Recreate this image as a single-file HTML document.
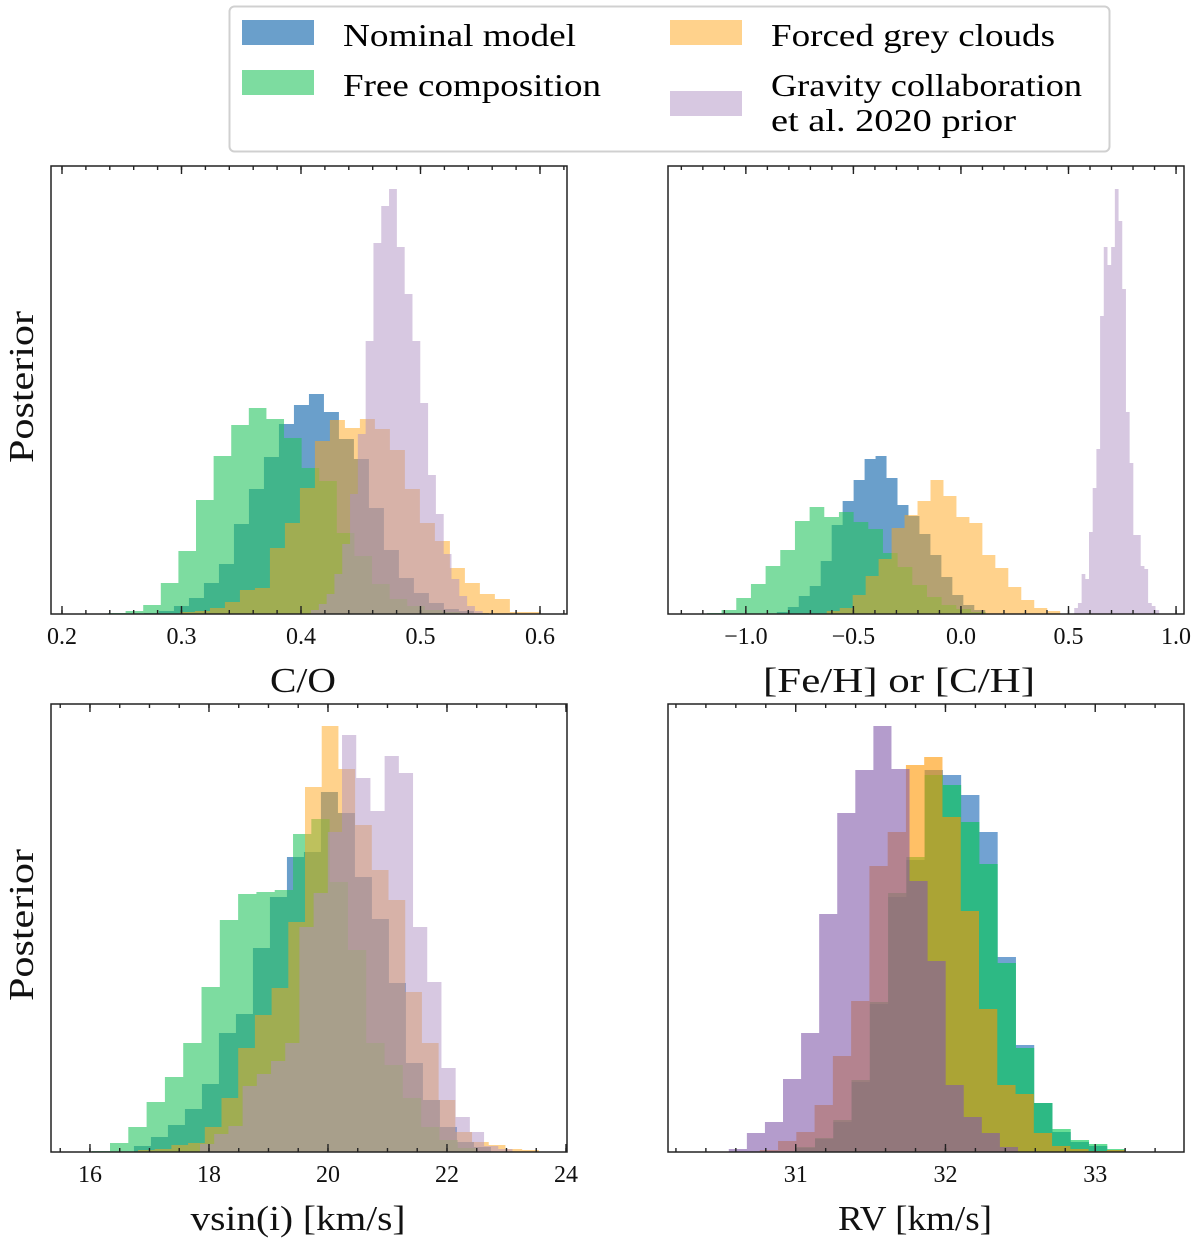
<!DOCTYPE html>
<html><head><meta charset="utf-8"><style>
html,body{margin:0;padding:0;background:#fff;}
svg{display:block;font-family:"Liberation Serif",serif;}
</style></head><body>
<svg id="fig" width="1200" height="1244" viewBox="0 0 1200 1244" xmlns="http://www.w3.org/2000/svg">
<g>
<rect x="229.5" y="6.5" width="880" height="145" rx="5" fill="#fff" stroke="#d0d0d0" stroke-width="2"/>
<rect x="242" y="20" width="72" height="25" fill="rgb(106,159,203)"/>
<text x="343" y="46" font-size="32" textLength="233" lengthAdjust="spacingAndGlyphs">Nominal model</text>
<rect x="242" y="70" width="72" height="25" fill="rgb(125,220,160)"/>
<text x="343" y="96" font-size="32" textLength="258" lengthAdjust="spacingAndGlyphs">Free composition</text>
<rect x="670" y="20" width="72" height="25" fill="rgb(255,210,140)"/>
<text x="771" y="46" font-size="32" textLength="284" lengthAdjust="spacingAndGlyphs">Forced grey clouds</text>
<rect x="670" y="91" width="72" height="25" fill="rgb(215,200,225)"/>
<text x="771" y="96" font-size="32" textLength="311" lengthAdjust="spacingAndGlyphs">Gravity collaboration</text>
<text x="771" y="131" font-size="32" textLength="245" lengthAdjust="spacingAndGlyphs">et al. 2020 prior</text>
</g>
</svg>
<script>
// ---- Panel 1: C/O ----
const coTicks = [0.2, 0.3, 0.4, 0.5, 0.6];
const coTickLabels = ["0.2", "0.3", "0.4", "0.5", "0.6"];
const coNominalStart = 0.2686, coNominalWidth = 0.01255;
const coNominal = [1,3,8,16,31,50,90,125,157,190,209,220,202,175,155,106,64,36,21,11,5,3,1];
const coFreeStart = 0.2385, coFreeWidth = 0.01473;
const coFree = [1,3,9,31,63,114,158,189,206,195,176,146,133,81,58,30,15,8,4,2];
const coForcedStart = 0.2987, coForcedWidth = 0.01255;
const coForced = [2,3,6,12,24,26,66,91,126,173,194,186,195,185,164,125,91,73,46,31,20,15,2,2];
const coGravityStart = 0.4084, coGravityWidth = 0.00653;
const coGravity = [4,10,20,40,70,120,180,273,371,408,425,367,320,273,211,139,100,60,35,18,8,3];

// ---- Panel 2: [Fe/H] ----
const feTicks = [-1.0, -0.5, 0.0, 0.5, 1.0];
const feTickLabels = ["\u22121.0", "\u22120.5", "0.0", "0.5", "1.0"];
const feNominalStart = -0.856, feNominalWidth = 0.051;
const feNominal = [2,7,18,28,53,89,113,134,155,158,136,109,98,80,59,37,19,9,4];
const feFreeStart = -1.181, feFreeWidth = 0.0682;
const feFree = [1,4,16,30,48,64,93,107,97,102,92,85,61,47,29,17,9,5,2];
const feForcedStart = -0.624, feForcedWidth = 0.0603;
const feForced = [3,6,19,38,55,86,99,113,134,118,97,91,59,46,27,14,6,3];
const feGravityStart = 0.5267, feGravityWidth = 0.01717;
const feGravity = [6,11,40,35,82,126,165,298,367,349,367,425,393,325,202,151,79,79,48,45,11,8,4];

// ---- Panel 3: vsin(i) ----
const vsTicks = [16, 18, 20, 22, 24];
const vsTickLabels = ["16", "18", "20", "22", "24"];
const vsNominalStart = 16.739, vsNominalWidth = 0.2857;
const vsNominal = [6,15,27,43,68,119,138,204,255,295,300,360,339,275,233,169,89,52,25,10,5];
const vsFreeStart = 16.029, vsFreeWidth = 0.3076;
const vsFree = [1,9,25,50,75,109,165,232,258,260,262,318,333,270,202,109,87,54,25,12,4];
const vsForcedStart = 16.807, vsForcedWidth = 0.2807;
const vsForced = [2,3,7,9,25,54,104,137,164,230,365,426,383,327,282,252,160,109,52,20,10,7,3,2];
const vsGravityStart = 17.849, vsGravityWidth = 0.2387;
const vsGravity = [8,18,26,66,78,91,109,225,259,320,417,374,341,396,379,225,170,84,35,20,6,3];

// ---- Panel 4: RV ----
const rvTicks = [31, 32, 33];
const rvTickLabels = ["31", "32", "33"];
const rvNominalStart = 31.0067, rvNominalWidth = 0.122;
const rvNominal = [4,13,30,70,148,255,292,382,377,357,320,195,107,49,20,10,6,2];
const rvFreeStart = 31.0067, rvFreeWidth = 0.122;
const rvFree = [5,14,32,72,150,259,295,377,367,330,288,189,104,49,23,12,8,3];
const rvForcedStart = 30.76, rvForcedWidth = 0.122;
const rvForced = [2,11,20,47,96,151,286,320,387,395,335,241,143,67,58,19,6,3,1,2];
const rvGravityStart = 30.553, rvGravityWidth = 0.1207;
const rvGravity = [3,19,30,73,119,238,339,382,426,383,271,191,67,35,19,5];

const NS = "http://www.w3.org/2000/svg";
const svg = document.getElementById("fig");
function mk(tag, attrs, parent){const e=document.createElementNS(NS,tag);for(const k in attrs)e.setAttribute(k,attrs[k]);(parent||svg).appendChild(e);return e;}

const colsA = {nominal:["rgb(7,95,168)",0.6], free:["rgb(38,197,97)",0.6], forced:["rgb(255,165,25)",0.5], gravity:["rgb(175,145,195)",0.5]};
const colsB = {nominal:["rgb(20,100,180)",0.6], free:["rgb(0,200,80)",0.6], forced:["rgb(255,150,0)",0.6], gravity:["rgb(130,90,170)",0.6]};

function panel(cfg){
  const L=cfg.left, T=cfg.top, W=516, H=448, R=L+W, B=T+H;
  const g = mk("g",{});
  
  
  const xs = v => L + (v - cfg.xmin) / (cfg.xmax - cfg.xmin) * W;
  const ys = c => B - c / cfg.ymax * H;
  const clip = mk("clipPath",{id:cfg.name+"-clip"},g);
  mk("rect",{x:L,y:T,width:W,height:H},clip);
  const hg = mk("g",{"clip-path":"url(#"+cfg.name+"-clip)"},g);
  
  
  cfg.series.forEach(s=>{
    let d = "M"+xs(s.start).toFixed(2)+","+B;
    s.counts.forEach((c,i)=>{
      const x0=xs(s.start+i*s.width), x1=xs(s.start+(i+1)*s.width), y=ys(c);
      d += " L"+x0.toFixed(2)+","+y.toFixed(2)+" L"+x1.toFixed(2)+","+y.toFixed(2);
    });
    d += " L"+xs(s.start+s.counts.length*s.width).toFixed(2)+","+B+" Z";
    const p = mk("path",{d:d,fill:s.col[0],"fill-opacity":s.col[1]},hg);
    
    
  });
  const fr = mk("rect",{x:L,y:T,width:W,height:H,fill:"none",stroke:"#222","stroke-width":1.5},g);
  
  
  const tg = mk("g",{stroke:"#222","stroke-width":1.4},g);
  
  
  const m0 = Math.ceil(cfg.xmin/cfg.minor - 1e-6);
  for(let k=m0; k*cfg.minor<=cfg.xmax+1e-9; k++){
    const x = xs(k*cfg.minor);
    mk("line",{x1:x,x2:x,y1:B,y2:B-4},tg);
    mk("line",{x1:x,x2:x,y1:T,y2:T+4},tg);
  }
  cfg.ticks.forEach((t,i)=>{
    const x=xs(t);
    mk("line",{x1:x,x2:x,y1:B,y2:B-8},tg);
    mk("line",{x1:x,x2:x,y1:T,y2:T+8},tg);
    const lb = mk("text",{x:x,y:B+30,"font-size":24,"text-anchor":"middle",fill:"#111"},g);
    lb.textContent = cfg.tickLabels[i];
    
    
  });
  const xl = mk("text",{x:cfg.xlabelX,y:B+78,"font-size":35,"text-anchor":"middle",fill:"#111",textLength:cfg.xlabelW,lengthAdjust:"spacingAndGlyphs"},g);
  xl.textContent = cfg.xlabel;
  
  
  if(cfg.ylabel){
    const yl = mk("text",{x:0,y:0,"font-size":35,"text-anchor":"middle",fill:"#111",textLength:152,lengthAdjust:"spacingAndGlyphs",transform:"translate(33,"+(T+H/2-3)+") rotate(-90)"},g);
    yl.textContent = "Posterior";
    
    
  }
}

function S(key,start,width,counts,col){return {key,start,width,counts,col};}

panel({name:"panel-co",left:51,top:166,xmin:0.1908,xmax:0.6226,ymax:448,minor:0.02,ticks:coTicks,tickLabels:coTickLabels,xlabel:"C/O",xlabelX:303,xlabelW:66,ylabel:true,
  series:[S("nominal",coNominalStart,coNominalWidth,coNominal,colsA.nominal),S("free",coFreeStart,coFreeWidth,coFree,colsA.free),S("forced",coForcedStart,coForcedWidth,coForced,colsA.forced),S("gravity",coGravityStart,coGravityWidth,coGravity,colsA.gravity)]});
panel({name:"panel-feh",left:668,top:166,xmin:-1.362,xmax:1.037,ymax:448,minor:0.1,ticks:feTicks,tickLabels:feTickLabels,xlabel:"[Fe/H] or [C/H]",xlabelX:899,xlabelW:272,ylabel:false,
  series:[S("nominal",feNominalStart,feNominalWidth,feNominal,colsA.nominal),S("free",feFreeStart,feFreeWidth,feFree,colsA.free),S("forced",feForcedStart,feForcedWidth,feForced,colsA.forced),S("gravity",feGravityStart,feGravityWidth,feGravity,colsA.gravity)]});
panel({name:"panel-vsini",left:51,top:704,xmin:15.345,xmax:24.017,ymax:448,minor:0.5,ticks:vsTicks,tickLabels:vsTickLabels,xlabel:"vsin(i) [km/s]",xlabelX:298,xlabelW:215,ylabel:true,
  series:[S("nominal",vsNominalStart,vsNominalWidth,vsNominal,colsA.nominal),S("free",vsFreeStart,vsFreeWidth,vsFree,colsA.free),S("forced",vsForcedStart,vsForcedWidth,vsForced,colsA.forced),S("gravity",vsGravityStart,vsGravityWidth,vsGravity,colsA.gravity)]});
panel({name:"panel-rv",left:668,top:704,xmin:30.147,xmax:33.593,ymax:448,minor:0.2,ticks:rvTicks,tickLabels:rvTickLabels,xlabel:"RV [km/s]",xlabelX:915,xlabelW:154,ylabel:false,
  series:[S("nominal",rvNominalStart,rvNominalWidth,rvNominal,colsB.nominal),S("free",rvFreeStart,rvFreeWidth,rvFree,colsB.free),S("forced",rvForcedStart,rvForcedWidth,rvForced,colsB.forced),S("gravity",rvGravityStart,rvGravityWidth,rvGravity,colsB.gravity)]});
</script>
</body></html>
